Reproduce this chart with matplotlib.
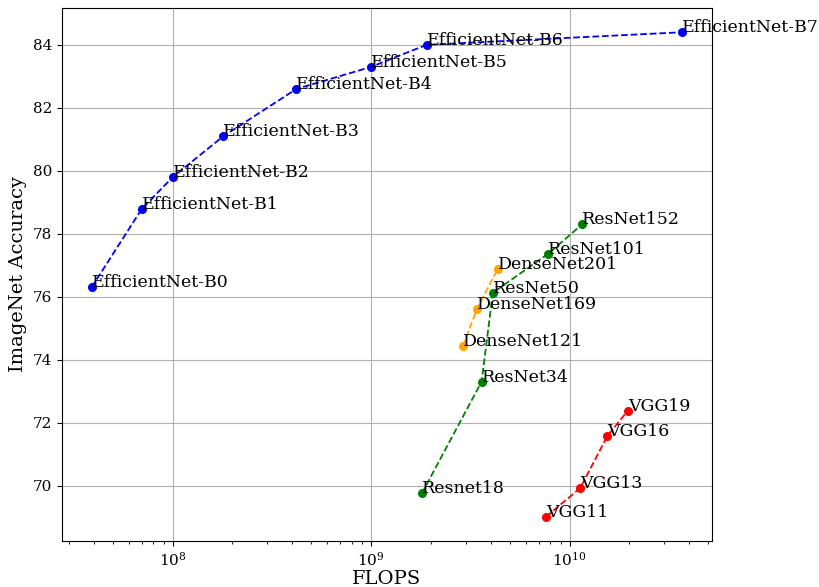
import numpy as np
import matplotlib
matplotlib.use("Agg")
import matplotlib.pyplot as plt

plt.rcParams["font.family"] = "DejaVu Serif"
plt.rcParams["mathtext.fontset"] = "dejavuserif"

# EfficientNet
eff_names = ["EfficientNet-B0", "EfficientNet-B1", "EfficientNet-B2", "EfficientNet-B3",
             "EfficientNet-B4", "EfficientNet-B5", "EfficientNet-B6", "EfficientNet-B7"]
eff_flops = [3.9e7, 7.0e7, 1.0e8, 1.8e8, 4.2e8, 1.0e9, 1.9e9, 3.7e10]
eff_acc = [76.3, 78.8, 79.8, 81.1, 82.6, 83.3, 84.0, 84.4]

# ResNet
res_names = ["Resnet18", "ResNet34", "ResNet50", "ResNet101", "ResNet152"]
res_flops = [1.8e9, 3.6e9, 4.1e9, 7.8e9, 1.16e10]
res_acc = [69.76, 73.31, 76.13, 77.37, 78.31]

# DenseNet
dense_names = ["DenseNet121", "DenseNet169", "DenseNet201"]
dense_flops = [2.9e9, 3.4e9, 4.35e9]
dense_acc = [74.43, 75.6, 76.9]

# VGG
vgg_names = ["VGG11", "VGG13", "VGG16", "VGG19"]
vgg_flops = [7.6e9, 1.13e10, 1.55e10, 1.96e10]
vgg_acc = [69.02, 69.93, 71.59, 72.38]

groups = [
    (eff_names, eff_flops, eff_acc, "blue"),
    (res_names, res_flops, res_acc, "green"),
    (dense_names, dense_flops, dense_acc, "orange"),
    (vgg_names, vgg_flops, vgg_acc, "red"),
]

fig = plt.figure(figsize=(8.19, 5.87), dpi=100)
ax = fig.add_axes([62 / 819, 1 - 541 / 587, 650 / 819, 533 / 587])

for names, flops, acc, color in groups:
    ax.plot(flops, acc, "o--", color=color, markersize=5.5, linewidth=1.3)
    for n, x, y in zip(names, flops, acc):
        ax.text(x, y, n, fontsize=12.5)

ax.set_xscale("log")
ax.grid(True)
ax.set_xlabel("FLOPS", fontsize=14, labelpad=1)
ax.set_ylabel("ImageNet Accuracy", fontsize=14)
ax.tick_params(labelsize=11)

fig.savefig("out.png", dpi=100)
